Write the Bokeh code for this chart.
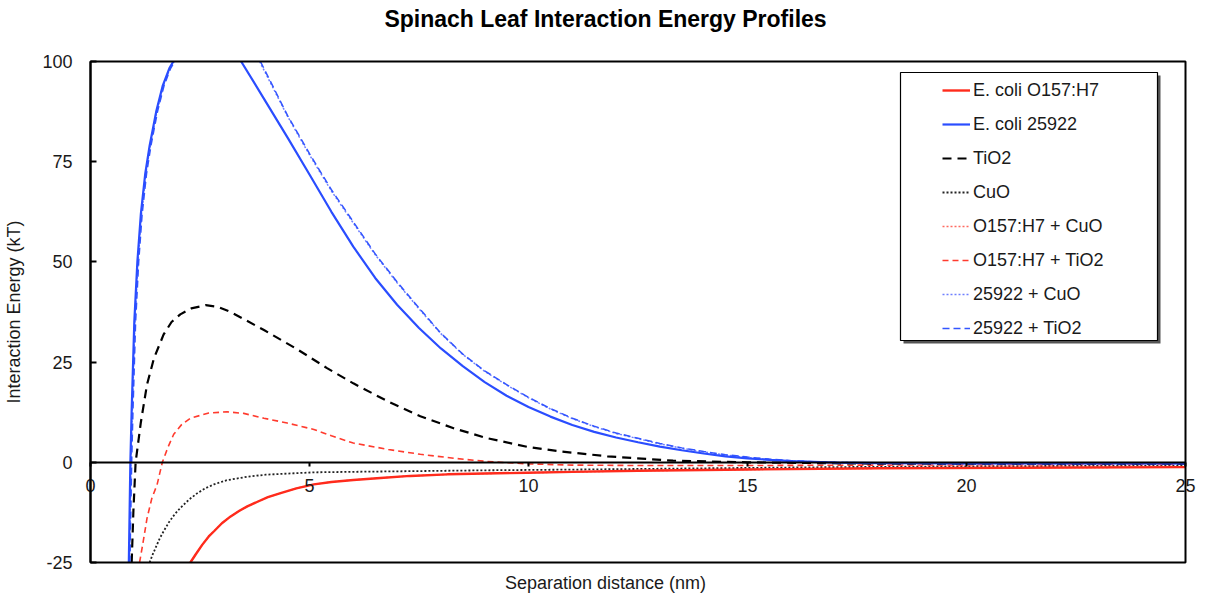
from bokeh.plotting import figure
from bokeh.models import (Legend, LegendItem, BoxAnnotation, Label,
                          FixedTicker, Range1d)
from bokeh.embed import file_html
from bokeh.resources import INLINE

NaN = float("nan")  # gap where a curve runs above the 100 kT top of the chart

# ---------------- data ----------------
x_ticks = [0, 5, 10, 15, 20, 25]
y_ticks = [-25, 0, 25, 50, 75, 100]
y_tick_labels = ["-25", "0", "25", "50", "75", "100"]
x_min, x_max = 0, 25
y_min, y_max = -25, 100

ecoli_o157_x = [2.28, 2.4, 2.55, 2.7, 2.82, 3.0, 3.2, 3.4, 3.58, 3.8, 4.05, 4.34, 4.7, 5.1, 5.5,
                6.0, 6.62, 7.3, 8.15, 9.0, 9.97, 11, 12.5, 15, 18, 21, 25]
ecoli_o157_y = [-25, -23, -20.6, -18.5, -17.2, -15.2, -13.5, -12.1, -11, -9.9, -8.7, -7.7, -6.5, -5.5, -4.9,
                -4.4, -3.9, -3.4, -3.0, -2.8, -2.6, -2.4, -2.1, -1.8, -1.5, -1.35, -1.2]

ecoli_25922_x = [0.875, 0.91, 0.94, 1.0, 1.07, 1.15, 1.25, 1.35, 1.5, 1.65, 1.8, 1.89, NaN,
                 3.44, 4.0, 4.5, 5.0, 5.5, 6.0, 6.5, 7.0, 7.5, 8.0, 8.5, 9.0, 9.5, 10, 10.5, 11, 11.5,
                 12, 12.5, 13, 13.5, 14, 14.5, 15, 15.5, 16, 16.5, 17, 18, 20, 22.5, 25]
ecoli_25922_y = [-25, 0, 13, 35, 50, 62, 72, 79, 87.5, 94, 98.3, 100, NaN,
                 100, 90, 81, 71.8, 62.5, 53.8, 46, 39.3, 33.5, 28.4, 24, 20, 16.6, 13.8, 11.4, 9.3, 7.6,
                 6.2, 5.0, 3.9, 3.0, 2.2, 1.5, 1.0, 0.6, 0.3, 0.1, -0.1, -0.2, -0.3, -0.3, -0.3]

tio2_x = [0.94, 0.98, 1.03, 1.15, 1.29, 1.45, 1.67, 1.85, 2.05, 2.3, 2.63, 2.9, 3.2, 3.96, 4.72, 5.4, 6.0,
          6.77, 7.53, 8.29, 9.06, 10.0, 10.73, 11.8, 13.3, 15, 17.5, 20, 25]
tio2_y = [-25, -12, 0, 10, 19.4, 26, 31.9, 35, 36.9, 38.4, 39.2, 38.8, 37.5, 33, 28.2, 23.5, 19.7,
          15.3, 11.5, 8.5, 6.0, 3.8, 2.7, 1.5, 0.4, 0, -0.3, -0.4, -0.4]

cuo_x = [1.35, 1.42, 1.5, 1.58, 1.67, 1.8, 1.92, 2.05, 2.25, 2.44, 2.62, 2.82, 3.1, 3.58, 4.0, 4.34,
         5.1, 6.2, 7.4, 9, 11.2, 14, 17, 20, 25]
cuo_y = [-25, -23, -21, -19, -17.2, -14.8, -13, -11.4, -9.3, -7.7, -6.5, -5.5, -4.5, -3.6, -3.1, -2.9,
         -2.5, -2.35, -2.2, -2.0, -1.8, -1.5, -1.2, -1.0, -0.8]

o157_cuo_x = [2.28, 2.4, 2.55, 2.7, 2.82, 3.0, 3.2, 3.4, 3.58, 3.8, 4.05, 4.34, 4.7, 5.1, 5.5,
              6.0, 6.62, 7.3, 8.15, 9.0, 9.97, 11, 12.5, 15, 18, 21, 25]
o157_cuo_y = [-25, -23, -20.6, -18.5, -17.2, -15.2, -13.5, -12.1, -11, -9.9, -8.7, -7.7, -6.5, -5.5, -4.9,
              -4.4, -3.9, -3.4, -3.0, -2.8, -2.6, -2.4, -2.1, -1.8, -1.5, -1.35, -1.2]

o157_tio2_x = [1.12, 1.2, 1.29, 1.4, 1.52, 1.64, 1.77, 1.9, 2.08, 2.28, 2.7, 3.12, 3.5, 3.96, 4.49, 5.1, 5.5,
               6.0, 6.8, 7.53, 8.3, 9.06, 10, 11, 12.5, 15, 18, 21, 25]
o157_tio2_y = [-25, -20, -14, -9, -5.6, 0, 3.8, 7, 9.4, 11, 12.3, 12.6, 12.2, 11, 9.8, 8.2, 6.6,
               4.8, 3.2, 2, 1.0, 0.2, -0.4, -0.7, -0.8, -0.8, -0.7, -0.6, -0.5]

s25922_cuo_x = [0.89, 0.925, 0.955, 1.015, 1.085, 1.165, 1.265, 1.365, 1.515, 1.665, 1.815, 1.91, NaN,
                3.86, 4.5, 5.0, 5.5, 6.0, 6.5, 7.0, 7.5, 8.0, 8.5, 9.0, 9.5, 10, 10.5, 11, 11.5,
                12, 12.5, 13, 13.5, 14, 14.5, 15, 15.5, 16, 16.5, 17, 18, 20, 22.5, 25]
s25922_cuo_y = [-25, 0, 13, 35, 50, 62, 72, 79, 87.5, 94, 98.3, 100, NaN,
                100, 86.3, 76.7, 67.7, 59.7, 51.8, 44.8, 38.3, 32.1, 26.9, 22.7, 19.3, 16.1, 13.3, 10.9, 8.9,
                7.2, 5.9, 4.6, 3.5, 2.6, 1.8, 1.2, 0.7, 0.35, 0.1, 0, -0.2, -0.3, -0.3, -0.3]

s25922_tio2_x = [0.9, 0.94, 0.97, 1.03, 1.1, 1.18, 1.28, 1.38, 1.53, 1.68, 1.83, 1.92, NaN,
                 3.88, 4.5, 5.0, 5.5, 6.0, 6.5, 7.0, 7.5, 8.0, 8.5, 9.0, 9.5, 10, 10.5, 11, 11.5,
                 12, 12.5, 13, 13.5, 14, 14.5, 15, 15.5, 16, 16.5, 17, 18, 20, 22.5, 25]
s25922_tio2_y = [-25, 0, 13, 35, 50, 62, 72, 79, 87.5, 94, 98.3, 100, NaN,
                 100, 86.5, 77, 68, 60, 52, 45, 38.5, 32.2, 27.0, 22.8, 19.4, 16.2, 13.4, 11, 9,
                 7.3, 6.0, 4.7, 3.6, 2.7, 1.9, 1.3, 0.8, 0.4, 0.15, 0, -0.2, -0.3, -0.3, -0.3]

# ---------------- figure ----------------
FONT = "Liberation Sans"
TXT = "#1a1a1a"
W, H = 1209, 601
# the plotting frame fills the whole canvas; the chart box is x 0..25, y -25..100,
# placed at px 90..1185 horizontally and 61..562 vertically
PX_X = (1185 - 90) / (x_max - x_min)
PX_Y = (562 - 61) / (y_max - y_min)
xr = Range1d(x_min - 90 / PX_X, x_max + (W - 1185) / PX_X)
yr = Range1d(y_min - (H - 562) / PX_Y, y_max + 61 / PX_Y)

p = figure(width=W, height=H, output_backend="svg", toolbar_location=None,
           x_range=xr, y_range=yr,
           min_border_left=0, min_border_right=0, min_border_top=0, min_border_bottom=0)
p.background_fill_color = "white"
p.border_fill_color = "white"
p.grid.visible = False
p.outline_line_color = None

# x axis drawn on the zero line
xa = p.xaxis[0]
xa.fixed_location = 0
xa.bounds = (x_min, x_max)
xa.ticker = FixedTicker(ticks=x_ticks)
xa.major_tick_out = 4
xa.major_tick_in = 0
xa.minor_tick_line_color = None
xa.axis_line_width = 2
xa.major_tick_line_width = 2
xa.major_label_standoff = 13
xa.major_label_text_font = FONT
xa.major_label_text_font_size = "18px"
xa.major_label_text_color = TXT

# y axis drawn on x = 0
ya = p.yaxis[0]
ya.fixed_location = 0
ya.bounds = (y_min, y_max)
ya.ticker = FixedTicker(ticks=y_ticks)
ya.major_label_overrides = {t: s for t, s in zip(y_ticks, y_tick_labels)}
ya.major_tick_in = 6
ya.major_tick_out = 0
ya.major_tick_line_width = 2
ya.minor_tick_line_color = None
ya.axis_line_width = 2
ya.major_label_standoff = 18
ya.major_label_text_font = FONT
ya.major_label_text_font_size = "18px"
ya.major_label_text_color = TXT
ya.axis_label = "Interaction Energy (kT)"
ya.axis_label_standoff = 15
ya.axis_label_text_font = FONT
ya.axis_label_text_font_size = "18px"
ya.axis_label_text_font_style = "normal"
ya.axis_label_text_color = TXT

RED = "#ff2b1c"
BLUE = "#2a4dff"

r_o157_cuo = p.line(o157_cuo_x, o157_cuo_y, line_color="#ff6a60", line_width=1.5, line_dash="2 2")
r_cuo = p.line(cuo_x, cuo_y, line_color="#222222", line_width=1.8, line_dash="2 2")
r_o157 = p.line(ecoli_o157_x, ecoli_o157_y, line_color=RED, line_width=2.4)
r_o157_tio2 = p.line(o157_tio2_x, o157_tio2_y, line_color="#ff3b2e", line_width=1.6, line_dash="6 4")
r_tio2 = p.line(tio2_x, tio2_y, line_color="black", line_width=2.2, line_dash="9 6")
r_25922_cuo = p.line(s25922_cuo_x, s25922_cuo_y, line_color="#6f80ff", line_width=1.5, line_dash="2 2")
r_25922_tio2 = p.line(s25922_tio2_x, s25922_tio2_y, line_color="#3355ff", line_width=1.5, line_dash="7 4")
r_25922 = p.line(ecoli_25922_x, ecoli_25922_y, line_color=BLUE, line_width=2.2)

# chart box
chart_box = BoxAnnotation(left=x_min, right=x_max, bottom=y_min, top=y_max,
                          fill_alpha=0, fill_color=None, line_color="black",
                          line_alpha=1.0, line_width=2)
p.add_layout(chart_box)

# title and x-axis title
p.add_layout(Label(x=(605 - 90) / PX_X, y=y_max, y_offset=43,
                   text="Spinach Leaf Interaction Energy Profiles",
                   text_align="center", text_baseline="middle",
                   text_font=FONT, text_font_size="23px", text_font_style="bold",
                   text_color="black"))
p.add_layout(Label(x=(605 - 90) / PX_X, y=y_min, y_offset=-20,
                   text="Separation distance (nm)",
                   text_align="center", text_baseline="middle",
                   text_font=FONT, text_font_size="18px", text_color=TXT))

# legend frame with shadow
lg_left, lg_right = (900 - 90) / PX_X, (1157 - 90) / PX_X
lg_top, lg_bottom = y_max - (72 - 61) / PX_Y, y_max - (340 - 61) / PX_Y
shadow = BoxAnnotation(left=lg_left + 3 / PX_X, right=lg_right + 3 / PX_X,
                       top=lg_top - 3 / PX_Y, bottom=lg_bottom - 3 / PX_Y,
                       fill_color="#555555", fill_alpha=1.0, line_color=None)
box = BoxAnnotation(left=lg_left, right=lg_right, top=lg_top, bottom=lg_bottom,
                    fill_color="white", fill_alpha=1.0, line_color="black",
                    line_alpha=1.0, line_width=1.2)
p.add_layout(shadow)
p.add_layout(box)

legend = Legend(items=[
    LegendItem(label="E. coli O157:H7", renderers=[r_o157]),
    LegendItem(label="E. coli 25922", renderers=[r_25922]),
    LegendItem(label="TiO2", renderers=[r_tio2]),
    LegendItem(label="CuO", renderers=[r_cuo]),
    LegendItem(label="O157:H7 + CuO", renderers=[r_o157_cuo]),
    LegendItem(label="O157:H7 + TiO2", renderers=[r_o157_tio2]),
    LegendItem(label="25922 + CuO", renderers=[r_25922_cuo]),
    LegendItem(label="25922 + TiO2", renderers=[r_25922_tio2]),
], location=(942, 262))
legend.padding = 0
legend.margin = 0
legend.border_line_color = None
legend.background_fill_alpha = 0
legend.glyph_width = 28
legend.glyph_height = 22
legend.label_height = 22
legend.spacing = 12
legend.label_standoff = 3
legend.label_text_font = FONT
legend.label_text_font_size = "18px"
legend.label_text_color = TXT
p.add_layout(legend, "center")

open("out.html", "w").write(file_html(p, INLINE))
